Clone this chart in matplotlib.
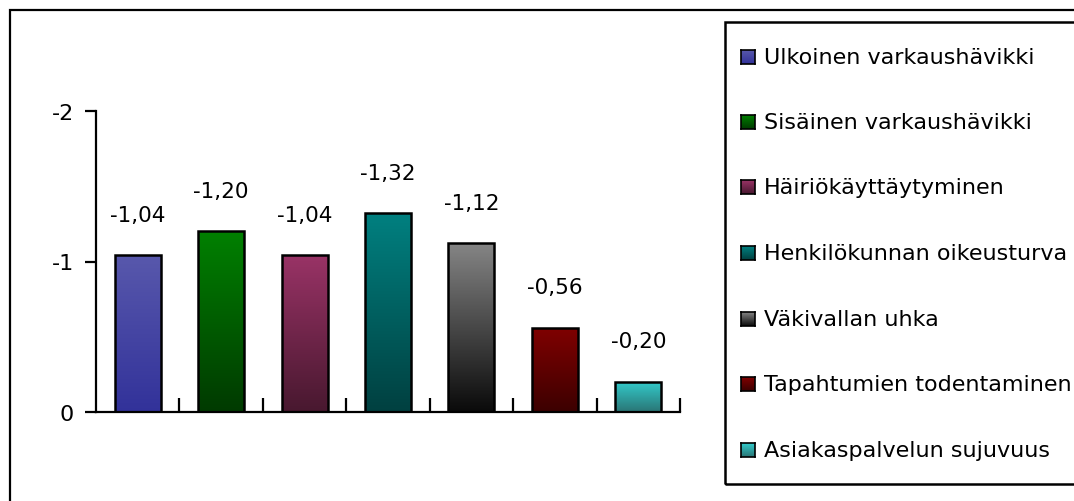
import numpy as np
import matplotlib
matplotlib.use("Agg")
import matplotlib.pyplot as plt
from matplotlib.patches import Rectangle
from matplotlib.colors import LinearSegmentedColormap

categories = ["Ulkoinen varkaushävikki", "Sisäinen varkaushävikki", "Häiriökäyttäytyminen",
              "Henkilökunnan oikeusturva", "Väkivallan uhka", "Tapahtumien todentaminen",
              "Asiakaspalvelun sujuvuus"]
values = [-1.04, -1.20, -1.04, -1.32, -1.12, -0.56, -0.20]
top_colors = ["#5858AC", "#008000", "#993366", "#008080", "#858585", "#800000", "#33CCCC"]
bottom_colors = ["#32329A", "#003A00", "#48182F", "#004040", "#0A0A0A", "#3C0000", "#2A7575"]
yticks = [0, -1, -2]

plt.rcParams['font.family'] = ['DejaVu Sans']
W, H = 1074, 502
fig = plt.figure(figsize=(W / 100, H / 100), dpi=100)

def fx(px):
    return px / W

def fy(py):
    return 1 - py / H

ax = fig.add_axes([fx(96), fy(413), fx(680) - fx(96), fy(112) - fy(413)])
n = len(values)
ax.set_xlim(0, n)
ax.set_ylim(0, -2)

bw = 0.55
for i, (v, ct, cb) in enumerate(zip(values, top_colors, bottom_colors)):
    x0 = i + 0.5 - bw / 2
    cmap = LinearSegmentedColormap.from_list("g%d" % i, [cb, ct])
    grad = np.linspace(0, 1, 256).reshape(-1, 1)
    im = ax.imshow(grad, cmap=cmap, aspect='auto', origin='lower',
                   extent=[x0, x0 + bw, 0, v], zorder=2)
    rect = Rectangle((x0, 0), bw, v, facecolor='none', edgecolor='black', lw=1.8, zorder=3)
    ax.add_patch(rect)
    im.set_clip_path(rect)
    ax.text(i + 0.5, v - 0.27, ("%.2f" % v).replace(".", ","), ha='center', va='center',
            fontsize=15.5, color='black')

ax.set_xlim(0, n)
ax.set_ylim(0, -2)
ax.spines['top'].set_visible(False)
ax.spines['right'].set_visible(False)
for s in ['left', 'bottom']:
    ax.spines[s].set_linewidth(1.6)
ax.set_xticks(np.arange(1, n + 1))
ax.set_xticklabels([])
ax.tick_params(axis='x', direction='in', length=10, width=1.6)
ax.set_yticks(yticks)
ax.set_yticklabels([str(t) for t in yticks], fontsize=16)
ax.tick_params(axis='y', direction='out', length=8, width=1.6, pad=8)

# outer border (top and left visible)
fig.add_artist(Rectangle((fx(10), fy(H + 20)), fx(W + 20) - fx(10), fy(11) - fy(H + 20),
                         transform=fig.transFigure, facecolor='none', edgecolor='black',
                         lw=1.6, clip_on=False))
# legend box
fig.add_artist(Rectangle((fx(725), fy(485)), fx(W + 20) - fx(725), fy(23) - fy(485),
                         transform=fig.transFigure, facecolor='none', edgecolor='black',
                         lw=1.8, clip_on=False))
ys = [58, 123, 188, 254, 320, 385, 451]
for lab, ct, cb, yy in zip(categories, top_colors, bottom_colors, ys):
    sax = fig.add_axes([fx(741), fy(yy + 7), fx(14), fy(yy - 7) - fy(yy + 7)])
    cmap = LinearSegmentedColormap.from_list("l", [cb, ct])
    sax.imshow(np.linspace(0, 1, 64).reshape(-1, 1), cmap=cmap, aspect='auto', origin='lower')
    sax.set_xticks([]); sax.set_yticks([])
    for s in sax.spines.values():
        s.set_linewidth(1.2)
    fig.text(fx(764), fy(yy), lab, ha='left', va='center', fontsize=16)

fig.savefig("out.png", dpi=100)
